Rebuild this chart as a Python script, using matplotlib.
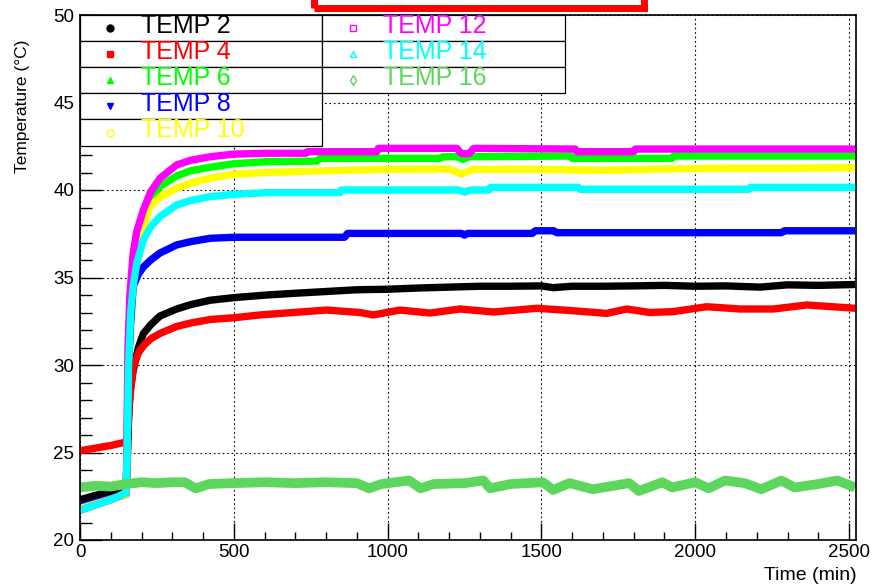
import matplotlib
matplotlib.use('Agg')
import matplotlib.pyplot as plt
from matplotlib.patches import Rectangle

plt.rcParams['font.family'] = ['Liberation Sans', 'DejaVu Sans']

# data (time in min, temperature in degC)
t2 = [0, 50, 100, 150, 153, 158, 163, 173, 190, 206, 230, 260, 314, 360, 423, 500, 607, 700, 800, 900,
      1000, 1100, 1200, 1300, 1400, 1500, 1538, 1600, 1700, 1800, 1900, 2000, 2100, 2211, 2300, 2400, 2520]
temp2 = [22.3, 22.55, 22.75, 22.9, 24.0, 26.9, 28.5, 29.7, 31.0, 31.8, 32.3, 32.8, 33.2, 33.45, 33.7, 33.85, 34.0, 34.1, 34.2, 34.3,
         34.33, 34.4, 34.45, 34.5, 34.5, 34.52, 34.42, 34.5, 34.5, 34.52, 34.55, 34.5, 34.52, 34.45, 34.58, 34.55, 34.6]

t4 = [0, 50, 100, 150, 155, 161, 173, 190, 206, 230, 260, 314, 360, 423, 500, 585, 693, 802, 910, 953, 1040,
      1138, 1235, 1344, 1486, 1603, 1712, 1777, 1853, 1928, 2037, 2146, 2254, 2363, 2471, 2520]
temp4 = [25.1, 25.25, 25.4, 25.6, 26.2, 28.0, 29.9, 30.7, 31.1, 31.5, 31.8, 32.2, 32.4, 32.6, 32.7, 32.86, 33.0, 33.14, 33.0, 32.86, 33.14,
         32.97, 33.2, 33.03, 33.24, 33.1, 32.95, 33.2, 33.0, 33.05, 33.33, 33.2, 33.2, 33.43, 33.3, 33.24]

t6 = [0, 150, 153, 157, 163, 173, 190, 206, 230, 260, 314, 360, 423, 500, 607, 770, 780, 1170, 1180, 1225,
      1245, 1265, 1595, 1600, 1925, 1930, 2520]
temp6 = [21.8, 22.6, 25.0, 30.0, 33.5, 35.8, 37.3, 38.3, 39.4, 40.2, 40.8, 41.1, 41.3, 41.5, 41.62, 41.65, 41.81, 41.81, 41.9, 41.9,
         41.75, 41.9, 41.94, 41.81, 41.81, 41.94, 41.94]

t8 = [0, 150, 153, 158, 165, 173, 190, 206, 230, 260, 314, 360, 423, 500, 607, 860, 870, 1240, 1250, 1260,
      1470, 1480, 1540, 1550, 2280, 2290, 2520]
temp8 = [21.9, 22.6, 25.0, 30.0, 32.5, 34.5, 35.2, 35.6, 36.0, 36.4, 36.86, 37.05, 37.24, 37.3, 37.3, 37.3, 37.52, 37.52, 37.42, 37.52,
         37.52, 37.67, 37.67, 37.56, 37.56, 37.67, 37.67]

t10 = [0, 150, 153, 157, 163, 173, 190, 206, 226, 260, 314, 360, 423, 500, 607, 800, 1000, 1200, 1240, 1280,
       1500, 1700, 1900, 2100, 2300, 2520]
temp10 = [21.8, 22.6, 25.0, 30.0, 33.0, 35.0, 36.6, 37.8, 39.0, 39.6, 40.1, 40.4, 40.67, 40.9, 41.0, 41.1, 41.18, 41.2, 40.92, 41.18,
          41.18, 41.12, 41.2, 41.24, 41.24, 41.28]

t12 = [0, 50, 100, 150, 152, 156, 162, 173, 184, 206, 230, 260, 314, 360, 423, 500, 607, 735, 740, 965,
       970, 1225, 1240, 1265, 1280, 1610, 1615, 1800, 1805, 2520]
temp12 = [21.7, 22.0, 22.3, 22.7, 25.0, 31.0, 34.0, 36.4, 37.6, 38.86, 39.9, 40.67, 41.43, 41.7, 41.9, 42.05, 42.1, 42.1, 42.19, 42.19,
          42.38, 42.38, 42.08, 42.08, 42.38, 42.34, 42.19, 42.19, 42.34, 42.34]

t14 = [0, 50, 100, 150, 153, 158, 165, 173, 184, 206, 230, 260, 314, 360, 423, 500, 607, 845, 850, 1230,
       1250, 1270, 1330, 1335, 1620, 1625, 2175, 2180, 2520]
temp14 = [21.7, 22.0, 22.3, 22.7, 25.0, 30.0, 33.0, 34.5, 35.8, 37.14, 37.9, 38.48, 39.14, 39.4, 39.62, 39.75, 39.85, 39.85, 40.0, 40.0,
          39.88, 40.0, 40.0, 40.15, 40.15, 40.04, 40.04, 40.15, 40.15]

t16 = [0, 50, 100, 150, 200, 250, 300, 340, 376, 420, 500, 600, 700, 800, 900, 940, 980, 1070, 1107, 1150,
       1250, 1311, 1333, 1400, 1505, 1538, 1591, 1667, 1785, 1817, 1893, 1925, 2000, 2043, 2097, 2160, 2215,
       2280, 2323, 2400, 2462, 2520]
temp16 = [23.0, 23.1, 23.05, 23.2, 23.3, 23.25, 23.3, 23.3, 22.95, 23.2, 23.25, 23.3, 23.25, 23.3, 23.25, 22.95, 23.2, 23.4, 22.95, 23.2,
          23.25, 23.4, 22.95, 23.2, 23.3, 22.86, 23.25, 22.9, 23.25, 22.8, 23.3, 23.0, 23.3, 22.95, 23.4, 23.25, 22.9,
          23.4, 23.0, 23.2, 23.4, 23.0]

labels = ['TEMP 2', 'TEMP 4', 'TEMP 6', 'TEMP 8', 'TEMP 10', 'TEMP 12', 'TEMP 14', 'TEMP 16']
series = [(t2, temp2), (t4, temp4), (t6, temp6), (t8, temp8), (t10, temp10), (t12, temp12), (t14, temp14), (t16, temp16)]
colors = ['black', '#ff0000', '#00ff00', '#0000ff', '#ffff00', '#ff00ff', '#00ffff', '#5cd65c']
markers = ['o', 's', '^', 'v', 'o', 's', '^', 'd']
filled = [True, True, True, True, False, False, False, False]

W, H = 872, 587
fig = plt.figure(figsize=(W / 100, H / 100), dpi=100)
ax = fig.add_axes([80 / W, 1 - 540 / H, (855.5 - 80) / W, (540 - 15) / H])

for (t, v), c, lab in zip(series, colors, labels):
    lw = 7 if lab == 'TEMP 16' else 5.3
    ax.plot(t, v, color=c, lw=lw, solid_capstyle='butt', solid_joinstyle='round')

ax.set_xlim(0, 2521)
ax.set_ylim(20, 50)
ax.set_xticks([0, 500, 1000, 1500, 2000, 2500])
ax.set_xticks(range(0, 2521, 100), minor=True)
ax.set_yticks([20, 25, 30, 35, 40, 45, 50])
ax.set_yticks(range(20, 51), minor=True)
ax.grid(True, which='major', color='black', lw=0.8, linestyle=(0, (1.5, 2.5)))
ax.tick_params(axis='x', which='major', direction='in', length=12, width=1, labelsize=13.5, pad=3)
ax.tick_params(axis='x', which='minor', direction='in', length=6, width=1)
ax.tick_params(axis='y', which='major', direction='in', length=16, width=1, labelsize=13.5, pad=4)
ax.tick_params(axis='y', which='minor', direction='in', length=8.5, width=1)
for s in ax.spines.values():
    s.set_linewidth(1.2)

fig.text(22 / W, 1 - 40 / H, 'Temperature (°C)', rotation=90, ha='center', va='top', fontsize=12.5)
fig.text(857 / W, 1 - 576 / H, 'Time (min)', ha='right', va='center', fontsize=14)

# title box cut at the top edge
fig.patches.append(Rectangle((313.5 / W, 1 - 7.5 / H), (644 - 313.5) / W, 20 / H, transform=fig.transFigure,
                             fill=False, edgecolor='#ff0000', lw=5, clip_on=False))


def px_rect(x0, y0, x1, y1):
    return Rectangle((x0 / W, 1 - y1 / H), (x1 - x0) / W, (y1 - y0) / H, transform=fig.transFigure,
                     facecolor='white', edgecolor='black', lw=0.9, zorder=5)


rows = [15, 41, 67, 93, 119, 146]
cols = [(80, 322, 110, 141), (322, 565, 353, 383)]
for i, lab in enumerate(labels):
    col = 0 if i < 5 else 1
    r = i if i < 5 else i - 5
    x0, x1, mx, tx = cols[col]
    fig.patches.append(px_rect(x0, rows[r], x1, rows[r + 1]))
    yc = (rows[r] + rows[r + 1]) / 2
    fig.add_artist(plt.Line2D([mx / W], [1 - yc / H], marker=markers[i], ms=5,
                              color=colors[i], mfc=colors[i] if filled[i] else 'none',
                              mew=1, transform=fig.transFigure, zorder=6))
    fig.text(tx / W, 1 - (rows[r] + 18) / H, lab, color=colors[i], fontsize=18, va='baseline',
             family=['Liberation Sans Narrow', 'Liberation Sans'], zorder=6)

fig.savefig('out.png', dpi=100)
